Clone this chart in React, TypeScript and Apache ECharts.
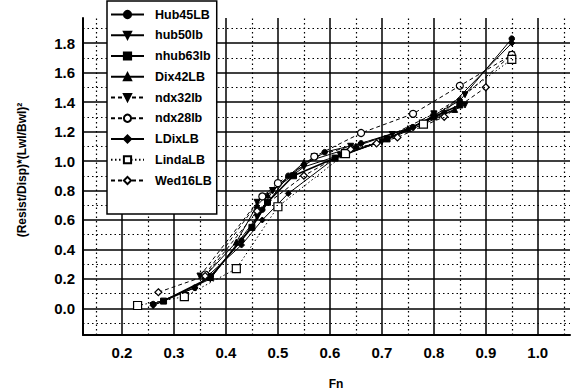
import React, { useEffect, useRef } from "react";
import * as echarts from "echarts";

const seriesNames = ["Hub45LB", "hub50lb", "nhub63lb", "Dix42LB", "ndx32lb", "ndx28lb", "LDixLB", "LindaLB", "Wed16LB"];

const hub45LB = [[0.26, 0.03], [0.34, 0.14], [0.37, 0.22], [0.43, 0.46], [0.47, 0.67], [0.52, 0.9], [0.59, 1.06], [0.66, 1.12], [0.76, 1.23], [0.85, 1.41], [0.95, 1.83]];
const hub50lb = [[0.26, 0.02], [0.37, 0.2], [0.46, 0.62], [0.49, 0.8], [0.55, 0.96], [0.62, 1.04], [0.7, 1.13], [0.78, 1.25], [0.86, 1.38]];
const nhub63lb = [[0.28, 0.05], [0.37, 0.21], [0.45, 0.55], [0.48, 0.72], [0.53, 0.9], [0.61, 1.02], [0.71, 1.15], [0.8, 1.3], [0.85, 1.38]];
const dix42LB = [[0.36, 0.22], [0.42, 0.45], [0.46, 0.7], [0.48, 0.77], [0.55, 0.99], [0.65, 1.1], [0.75, 1.22], [0.84, 1.35]];
const ndx32lb = [[0.35, 0.22], [0.46, 0.72], [0.49, 0.8], [0.57, 1.03], [0.64, 1.1], [0.72, 1.18], [0.8, 1.32], [0.86, 1.45], [0.95, 1.72]];
const ndx28lb = [[0.36, 0.23], [0.47, 0.76], [0.5, 0.85], [0.57, 1.03], [0.66, 1.19], [0.76, 1.32], [0.85, 1.51], [0.95, 1.72]];
const lDixLB = [[0.26, 0.02], [0.34, 0.14], [0.43, 0.43], [0.47, 0.6], [0.52, 0.78], [0.61, 1.02], [0.71, 1.15], [0.82, 1.33], [0.95, 1.8]];
const lindaLB = [[0.23, 0.02], [0.32, 0.08], [0.42, 0.27], [0.5, 0.69], [0.63, 1.05], [0.78, 1.25], [0.95, 1.69]];
const wed16LB = [[0.27, 0.11], [0.36, 0.22], [0.46, 0.66], [0.55, 0.9], [0.64, 1.08], [0.69, 1.12], [0.73, 1.16], [0.82, 1.3], [0.9, 1.5]];

const xMinorGrid = [0.15, 0.25, 0.35, 0.45, 0.55, 0.65, 0.75, 0.85, 0.95, 1.05];
const yMinorGrid = [-0.1, 0.1, 0.3, 0.5, 0.7, 0.9, 1.1, 1.3, 1.5, 1.7, 1.9];

const DOWN_TRI = "path://M0,0 L10,0 L5,10 Z";

export default function App() {
  const ref = useRef<HTMLDivElement>(null);
  useEffect(() => {
    if (!ref.current) return;
    const chart = echarts.init(ref.current, undefined, { renderer: "svg" });
    const font = "'Liberation Sans', Arial, sans-serif";
    const filled = { color: "#000", borderColor: "#000", borderWidth: 1 };
    const open = { color: "#fff", borderColor: "#000", borderWidth: 1.2 };
    const mk = (name: string, data: number[][], symbol: string, size: number, item: any, line: any) => ({
      name,
      type: "line",
      data,
      symbol,
      symbolSize: size,
      showAllSymbol: true,
      itemStyle: item,
      lineStyle: { color: "#000", width: 1, ...line },
      z: 3,
    });
    const option: any = {
      animation: false,
      backgroundColor: "#fff",
      grid: { left: 83, right: 0, top: 18, bottom: 56, containLabel: false },
      xAxis: {
        type: "value",
        min: 0.125,
        max: 1.062,
        splitNumber: 9,
        axisLine: { show: true, onZero: false, lineStyle: { color: "#000", width: 2 } },
        axisTick: { show: false },
        axisLabel: {
          margin: 10,
          color: "#000",
          fontSize: 15,
          fontWeight: "bold",
          fontFamily: font,
          formatter: (v: number) => (Math.abs(v * 10 - Math.round(v * 10)) < 1e-6 ? v.toFixed(1) : ""),
        },
        splitLine: { show: true, showMinLine: false, showMaxLine: false, lineStyle: { color: "#000", width: 1.5 } },
      },
      yAxis: {
        type: "value",
        min: -0.18,
        max: 1.97,
        splitNumber: 10,
        axisLine: { show: true, onZero: false, lineStyle: { color: "#000", width: 2 } },
        axisTick: { show: false },
        axisLabel: {
          margin: 8,
          color: "#000",
          fontSize: 15,
          fontWeight: "bold",
          fontFamily: font,
          padding: [4, 0, 0, 0],
          formatter: (v: number) => (Math.abs(v * 5 - Math.round(v * 5)) < 1e-6 ? v.toFixed(1) : ""),
        },
        splitLine: { show: true, showMinLine: false, showMaxLine: false, lineStyle: { color: "#000", width: 1.5 } },
      },
      legend: {
        data: seriesNames,
        orient: "vertical",
        left: 107,
        top: 1,
        itemWidth: 33,
        itemHeight: 9,
        itemGap: 7.75,
        padding: [7, 5, 27, 3],
        backgroundColor: "#fff",
        borderColor: "#000",
        borderWidth: 1.5,
        borderRadius: 0,
        textStyle: { color: "#000", fontSize: 12.5, fontWeight: "bold", fontFamily: font, padding: [0, 0, 0, 6] },
        z: 10,
      },
      graphic: [
        {
          type: "text",
          x: 336,
          y: 384,
          style: { text: "Fn", fill: "#000", font: `bold 12px ${font}`, align: "center", verticalAlign: "middle" },
        },
        {
          type: "text",
          x: 22,
          y: 170,
          rotation: Math.PI / 2,
          style: { text: "(Resist/Disp)*(Lwl/Bwl)²", fill: "#000", font: `bold 12px ${font}`, align: "center", verticalAlign: "middle" },
        },
      ],
      series: [
        {
          name: "grid",
          type: "line",
          data: [],
          silent: true,
          z: 1,
          markLine: {
            silent: true,
            symbol: ["none", "none"],
            label: { show: false },
            lineStyle: { color: "#000", width: 1.2, type: [1.5, 3] },
            data: [
              ...xMinorGrid.map((v) => ({ xAxis: v })),
              ...yMinorGrid.map((v) => ({ yAxis: v })),
            ],
          },
        },
        mk("Hub45LB", hub45LB, "circle", 5.5, filled, {}),
        mk("hub50lb", hub50lb, DOWN_TRI, 6, filled, {}),
        mk("nhub63lb", nhub63lb, "rect", 6, filled, { width: 1.6 }),
        mk("Dix42LB", dix42LB, "triangle", 6, filled, {}),
        mk("ndx32lb", ndx32lb, DOWN_TRI, 6, filled, { type: [4, 3] }),
        mk("ndx28lb", ndx28lb, "circle", 7, open, { type: [4, 3] }),
        mk("LDixLB", lDixLB, "diamond", 6, filled, {}),
        mk("LindaLB", lindaLB, "rect", 8, open, { type: [1.5, 2.5] }),
        mk("Wed16LB", wed16LB, "diamond", 7, open, { type: [4, 3] }),
      ],
    };
    chart.setOption(option);
    return () => chart.dispose();
  }, []);
  return <div ref={ref} style={{ position: "fixed", left: 0, top: 0, width: 573, height: 391 }} />;
}
